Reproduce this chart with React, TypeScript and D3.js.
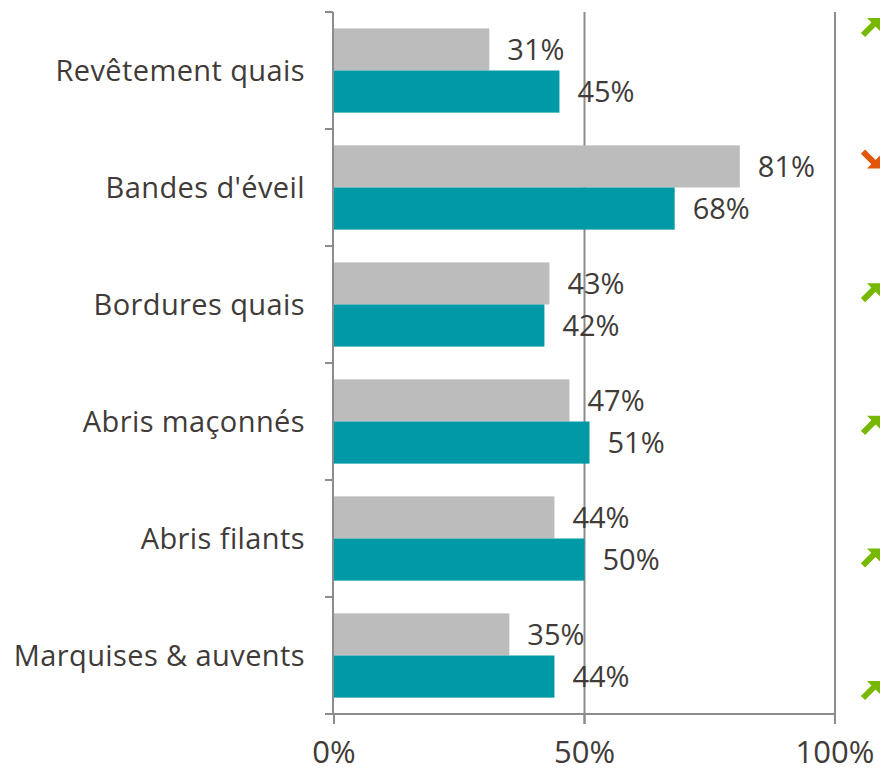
import React from "react";
import * as d3 from "d3";

const categories = [
  "Revêtement quais",
  "Bandes d'éveil",
  "Bordures quais",
  "Abris maçonnés",
  "Abris filants",
  "Marquises & auvents",
];
const previousValues = [31, 81, 43, 47, 44, 35];
const currentValues = [45, 68, 42, 51, 50, 44];
const trends = ["up", "down", "up", "up", "up", "up"];
const xTicks = [0, 50, 100];

const W = 886;
const H = 773;
const left = 334;
const right = 835;
const top = 12;
const bottom = 714;
const FONT = "'Open Sans', Lato, sans-serif";
const TEXT = "#403b38";
const AXIS = "#8c8c8c";
const GRAY = "#bcbcbc";
const TEAL = "#009aa6";
const GREEN = "#77b800";
const ORANGE = "#e2560c";

export default function App() {
  const x = d3.scaleLinear().domain([0, 100]).range([left, right]);
  const y = d3.scaleBand<string>().domain(categories).range([top, bottom]).paddingInner(0.28).paddingOuter(0.14);
  const yOuter = d3.scaleBand<string>().domain(categories).range([top, bottom]);
  const sub = d3.scaleBand<string>().domain(["prev", "cur"]).range([0, y.bandwidth()]);
  const arrowY = d3.scalePoint<string>().domain(categories).range([27, 690]);

  const shaft = d3.path();
  shaft.moveTo(-8, 8);
  shaft.lineTo(3, -3);
  const head = d3.path();
  head.moveTo(-4, -9);
  head.lineTo(9, -9);
  head.lineTo(9, 4);
  head.closePath();

  return (
    <div style={{ position: "absolute", left: 0, top: 0 }}>
      <svg width={W} height={H} style={{ display: "block", background: "#fff" }}>
        {xTicks.slice(1).map((t) => (
          <line key={"g" + t} x1={x(t)} x2={x(t)} y1={top} y2={bottom + 10} stroke={AXIS} strokeWidth={2} />
        ))}
        {categories.map((c, i) => (
          <g key={c}>
            <rect x={x(0)} y={(y(c) as number) + (sub("prev") as number)} width={x(previousValues[i]) - x(0)} height={sub.bandwidth()} fill={GRAY} />
            <rect x={x(0)} y={(y(c) as number) + (sub("cur") as number)} width={x(currentValues[i]) - x(0)} height={sub.bandwidth()} fill={TEAL} />
            <text x={x(previousValues[i]) + 18} y={(y(c) as number) + (sub("prev") as number) + sub.bandwidth() / 2} dy="0.36em" fontFamily={FONT} fontSize={29} fill={TEXT}>
              {previousValues[i]}%
            </text>
            <text x={x(currentValues[i]) + 18} y={(y(c) as number) + (sub("cur") as number) + sub.bandwidth() / 2} dy="0.36em" fontFamily={FONT} fontSize={29} fill={TEXT}>
              {currentValues[i]}%
            </text>
            <text x={305} y={(yOuter(c) as number) + yOuter.bandwidth() / 2} dy="0.36em" textAnchor="end" fontFamily={FONT} fontSize={29} letterSpacing={0.4} fill={TEXT}>
              {c}
            </text>
          </g>
        ))}
        <line x1={left - 1} x2={left - 1} y1={top} y2={bottom} stroke={AXIS} strokeWidth={2} />
        {yOuter.domain().map((c) => (
          <line key={"yt" + c} x1={left - 9} x2={left - 1} y1={yOuter(c)} y2={yOuter(c)} stroke={AXIS} strokeWidth={2} />
        ))}
        <line x1={left - 9} x2={right} y1={bottom} y2={bottom} stroke={AXIS} strokeWidth={2} />
        {xTicks.map((t) => (
          <g key={"xt" + t}>
            <line x1={x(t)} x2={x(t)} y1={bottom} y2={bottom + 10} stroke={AXIS} strokeWidth={2} />
            <text x={x(t)} y={752} dy="0.36em" textAnchor="middle" fontFamily={FONT} fontSize={31} fill={TEXT}>
              {t}%
            </text>
          </g>
        ))}
        {categories.map((c, i) => {
          const up = trends[i] === "up";
          const color = up ? GREEN : ORANGE;
          return (
            <g key={"a" + c} transform={`translate(871,${arrowY(c)}) scale(1,${up ? 1 : -1})`}>
              <path d={shaft.toString()} stroke={color} strokeWidth={6} fill="none" />
              <path d={head.toString()} fill={color} />
            </g>
          );
        })}
      </svg>
    </div>
  );
}
